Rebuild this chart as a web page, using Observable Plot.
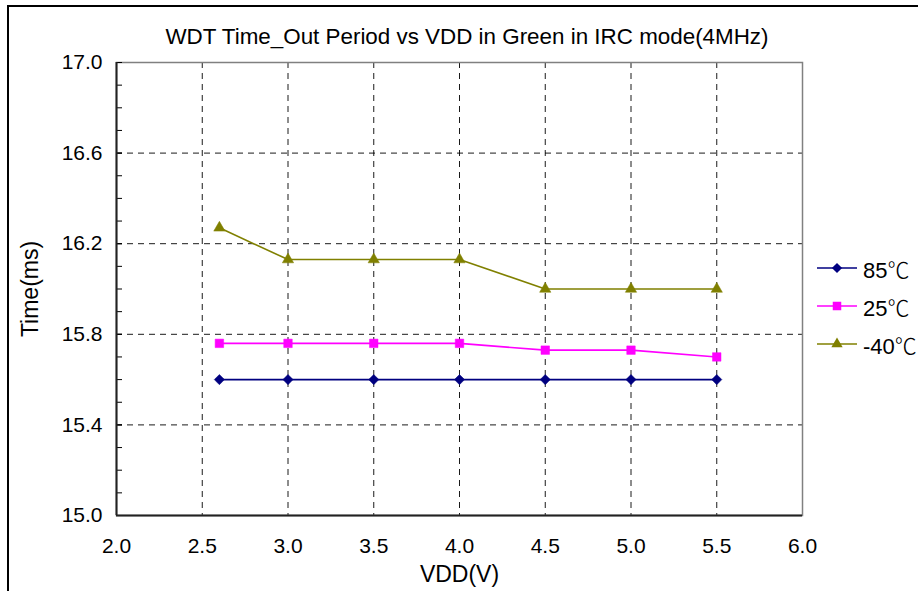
<!DOCTYPE html>
<html>
<head>
<meta charset="utf-8">
<script src="https://cdn.jsdelivr.net/npm/d3@7"></script>
<script src="https://cdn.jsdelivr.net/npm/@observablehq/plot@0.6"></script>
<style>
  html, body { margin: 0; padding: 0; background: #fff; }
  #wrap { position: relative; width: 918px; height: 591px; overflow: hidden; font-family: "Liberation Sans", Arial, sans-serif; }
  #border { position: absolute; left: 7px; top: 5px; right: -2px; bottom: -2px; border-left: 2px solid #000; border-top: 2px solid #000; }
  #title { position: absolute; left: 0; width: 934px; top: 24px; text-align: center; font-size: 22.4px; color: #000; }
  #chart { position: absolute; left: 0; top: 0; }
  #legend { position: absolute; left: 815px; top: 249px; font-size: 22px; }
  .row { display: flex; align-items: center; height: 38px; }
  .row svg { margin-right: 4px; }
  .deg { font-family: "Noto Sans CJK SC", sans-serif; font-weight: 300; }
</style>
</head>
<body>
<div id="wrap">
  <div id="border"></div>
  <div id="chart"></div>
  <div id="title">WDT Time_Out Period vs VDD in Green in IRC mode(4MHz)</div>
  <div id="legend"></div>
</div>
<script>
const vdd = [2.6, 3.0, 3.5, 4.0, 4.5, 5.0, 5.5];
const t85 = [15.60, 15.60, 15.60, 15.60, 15.60, 15.60, 15.60];
const t25 = [15.76, 15.76, 15.76, 15.76, 15.73, 15.73, 15.70];
const tm40 = [16.27, 16.13, 16.13, 16.13, 16.00, 16.00, 16.00];
const seriesNames = ["85℃", "25℃", "-40℃"];
const seriesColors = ["#000080", "#FF00FF", "#808000"];
const seriesSymbols = ["diamond2", "square", "triangle"];
const xTicks = [2.0, 2.5, 3.0, 3.5, 4.0, 4.5, 5.0, 5.5, 6.0];
const yTicks = [15.0, 15.4, 15.8, 16.2, 16.6, 17.0];
const yMinor = d3.range(151, 171).map(d => d / 10);

const seriesValues = [t85, t25, tm40];
const data = seriesNames.flatMap((name, i) =>
  vdd.map((v, j) => ({series: name, vdd: v, time: seriesValues[i][j]})));

const symbolSizes = {"diamond2": 4.6, "square": 4.8, "triangle": 4.2};

const marks = [
  Plot.gridX(xTicks.slice(1, -1), {stroke: "#000", strokeOpacity: 1, strokeWidth: 0.9, strokeDasharray: "6,5"}),
  Plot.gridY(yTicks.slice(1, -1), {stroke: "#000", strokeOpacity: 1, strokeWidth: 0.9, strokeDasharray: "6,5"}),
  Plot.frame({stroke: "#808080", strokeWidth: 1.5}),
  Plot.axisY(yMinor, {tickSize: -6, tickFormat: () => "", stroke: "#000", label: null}),
  Plot.axisY(yTicks, {tickSize: -6, tickPadding: 20, tickFormat: d3.format(".1f"), fontSize: 21, label: null}),
  Plot.axisX(xTicks, {tickSize: 0, tickPadding: 23, tickFormat: d3.format(".1f"), fontSize: 21, label: null}),
  Plot.ruleX([2.0], {stroke: "#222", strokeWidth: 2}),
  Plot.ruleY([15.0], {stroke: "#222", strokeWidth: 2}),
];
seriesNames.forEach((name, i) => {
  const d = data.filter(r => r.series === name);
  marks.push(Plot.line(d, {x: "vdd", y: "time", stroke: seriesColors[i], strokeWidth: 1.6}));
  marks.push(Plot.dot(d, {x: "vdd", y: "time", fill: seriesColors[i], stroke: seriesColors[i], strokeWidth: 0.5,
    symbol: () => seriesSymbols[i], r: symbolSizes[seriesSymbols[i]]}));
});
marks.push(Plot.text(["VDD(V)"], {frameAnchor: "bottom", dy: 66, fontSize: 23, text: d => d}));
marks.push(Plot.text(["Time(ms)"], {frameAnchor: "left", textAnchor: "middle", dx: -86, rotate: -90, fontSize: 23, text: d => d}));

const chart = Plot.plot({
  width: 918,
  height: 591,
  marginLeft: 116,
  marginRight: 116,
  marginTop: 62,
  marginBottom: 76,
  style: {fontFamily: "'Liberation Sans', Arial, sans-serif", fontSize: "20px", color: "#000", background: "transparent", overflow: "visible"},
  x: {domain: [2, 6], label: null},
  y: {domain: [15, 17], label: null},
  symbol: {type: "identity"},
  marks
});
document.getElementById("chart").appendChild(chart);

// legend
const legend = document.getElementById("legend");
seriesNames.forEach((name, i) => {
  const row = document.createElement("div");
  row.className = "row";
  const sym = d3.symbol(
    {diamond2: d3.symbolDiamond2, square: d3.symbolSquare, triangle: d3.symbolTriangle}[seriesSymbols[i]],
    Math.PI * symbolSizes[seriesSymbols[i]] ** 2)();
  const label = name.replace("℃", '<span class="deg">℃</span>');
  row.innerHTML = `<svg width="44" height="20"><line x1="2" x2="42" y1="10" y2="10" stroke="${seriesColors[i]}" stroke-width="1.6"/><path d="${sym}" transform="translate(22,10)" fill="${seriesColors[i]}"/></svg><span>${label}</span>`;
  legend.appendChild(row);
});
</script>
</body>
</html>
